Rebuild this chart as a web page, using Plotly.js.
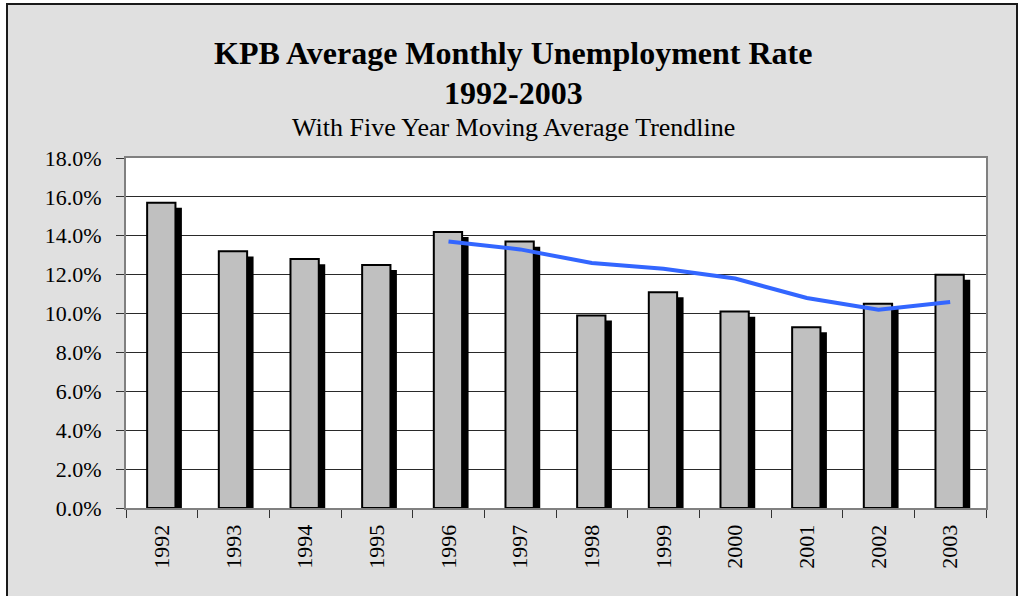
<!DOCTYPE html>
<html>
<head>
<meta charset="utf-8">
<script src="https://cdn.plot.ly/plotly-3.0.1.min.js"></script>
<style>
  html, body { margin: 0; padding: 0; background: #ffffff; overflow: hidden; width: 1021px; height: 596px; }
  #frame { position: absolute; left: 6px; top: 3px; width: 1008px; height: 600px;
           border-left: 2px solid #1a1a1a; border-top: 2px solid #1a1a1a; border-right: 2px solid #1a1a1a;
           background: #e0e0e0; }
  #chart { width: 1008px; height: 600px; }
</style>
</head>
<body>
<div id="frame"><div id="chart"></div></div>
<script>
// Data
var years = ['1992','1993','1994','1995','1996','1997','1998','1999','2000','2001','2002','2003'];
var unemploymentRate = [15.7, 13.2, 12.8, 12.5, 14.2, 13.7, 9.9, 11.1, 10.1, 9.3, 10.5, 12.0];
var trendYears = ['1996','1997','1998','1999','2000','2001','2002','2003'];
var movingAverage = [13.7, 13.3, 12.6, 12.3, 11.8, 10.8, 10.2, 10.6];
var yTicks = [0, 2, 4, 6, 8, 10, 12, 14, 16, 18];

var shadowDrop = 0.26; // visual drop of the bar shadow, in axis units
var serif = '"Liberation Serif", "Times New Roman", serif';

var shadow = {
  type: 'bar', x: years, y: unemploymentRate.map(function (v) { return v - shadowDrop; }),
  offset: -0.13, width: 0.41,
  marker: { color: '#000000', line: { width: 0 } },
  hoverinfo: 'skip', showlegend: false
};
var bars = {
  type: 'bar', x: years, y: unemploymentRate,
  offset: -0.205, width: 0.395,
  marker: { color: '#c0c0c0', line: { color: '#000000', width: 2 } },
  showlegend: false
};
var trend = {
  type: 'scatter', mode: 'lines', x: trendYears, y: movingAverage,
  line: { color: '#3366ff', width: 4 },
  showlegend: false
};

var layout = {
  width: 1008, height: 600,
  margin: { l: 118, r: 30, t: 153, b: 97 },
  paper_bgcolor: 'rgba(0,0,0,0)',
  plot_bgcolor: '#ffffff',
  barmode: 'overlay',
  font: { family: serif, color: '#000000' },
  xaxis: {
    type: 'category',
    tickangle: -90,
    tickfont: { family: serif, size: 22, color: '#000000' },
    ticks: 'outside', ticklen: 8, tickcolor: '#333333', tickwidth: 1,
    tickson: 'boundaries',
    ticklabelstandoff: 6,
    showline: true, linecolor: '#808080', linewidth: 2, mirror: true,
    showgrid: false, zeroline: false
  },
  yaxis: {
    range: [0, 18],
    tickvals: yTicks,
    ticktext: yTicks.map(function (v) { return v.toFixed(1) + '%'; }),
    tickfont: { family: serif, size: 22, color: '#000000' },
    ticks: 'outside', ticklen: 8, tickcolor: '#333333', tickwidth: 1,
    ticklabelstandoff: 10,
    showline: true, linecolor: '#808080', linewidth: 2, mirror: true,
    showgrid: true, gridcolor: '#2a2a2a', gridwidth: 1,
    zeroline: false
  },
  annotations: [
    { text: '<b>KPB Average Monthly Unemployment Rate</b>', xref: 'paper', yref: 'paper',
      x: 0.45, y: 1.30, xanchor: 'center', yanchor: 'middle', showarrow: false,
      font: { family: serif, size: 32, color: '#000000' } },
    { text: '<b>1992-2003</b>', xref: 'paper', yref: 'paper',
      x: 0.45, y: 1.186, xanchor: 'center', yanchor: 'middle', showarrow: false,
      font: { family: serif, size: 32, color: '#000000' } },
    { text: 'With Five Year Moving Average Trendline', xref: 'paper', yref: 'paper',
      x: 0.45, y: 1.086, xanchor: 'center', yanchor: 'middle', showarrow: false,
      font: { family: serif, size: 26, color: '#000000' } }
  ]
};

Plotly.newPlot('chart', [shadow, bars, trend], layout, { displayModeBar: false, staticPlot: true });
</script>
</body>
</html>
